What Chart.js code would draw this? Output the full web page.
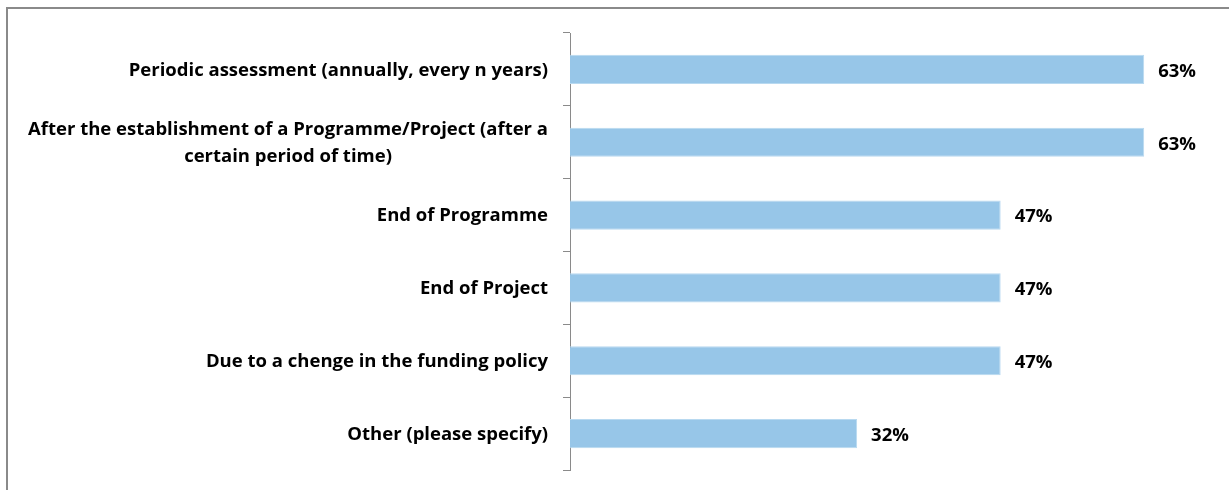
<!DOCTYPE html>
<html>
<head>
<meta charset="utf-8">
<script src="https://cdn.jsdelivr.net/npm/chart.js@4"></script>
<style>
  html, body { margin: 0; padding: 0; overflow: hidden; background: #fff; }
  .frame { position: absolute; left: 6px; top: 7px; width: 1400px; height: 700px; border: 2px solid #8a8a8a; }
  .wrap { position: absolute; left: 0; top: 0; width: 1229px; height: 490px; }
</style>
</head>
<body>
<div class="frame"></div>
<div class="wrap"><canvas id="myChart" width="1229" height="490"></canvas></div>
<script>
const categories = [
  'Periodic assessment (annually, every n years)',
  ['After the establishment of a Programme/Project (after a', 'certain period of time)'],
  'End of Programme',
  'End of Project',
  'Due to a chenge in the funding policy',
  'Other (please specify)'
];
const values = [63.2, 63.2, 47.4, 47.4, 47.4, 31.6];

const labelFont = 'bold 18.5px "Open Sans", sans-serif';

// y labels: wrapped ones are centered line by line like in Excel
const yLabels = {
  id: 'yLabels',
  afterDraw(chart) {
    const ctx = chart.ctx;
    const y = chart.scales.y;
    const right = y.right - 7 - 15;
    ctx.save();
    ctx.font = labelFont;
    ctx.fillStyle = '#000';
    ctx.textBaseline = 'middle';
    categories.forEach((lab, i) => {
      const lines = Array.isArray(lab) ? lab : [lab];
      const cy = y.getPixelForTick(i) + 1;
      const lh = 27;
      const widest = Math.max(...lines.map(l => ctx.measureText(l).width));
      const cx = right - widest / 2;
      ctx.textAlign = 'center';
      lines.forEach((l, k) => {
        ctx.fillText(l, cx, cy + (k - (lines.length - 1) / 2) * lh);
      });
    });
    ctx.restore();
  }
};

const valueLabels = {
  id: 'valueLabels',
  afterDatasetsDraw(chart) {
    const ctx = chart.ctx;
    const meta = chart.getDatasetMeta(0);
    ctx.save();
    ctx.font = labelFont;
    ctx.fillStyle = '#000';
    ctx.textAlign = 'left';
    ctx.textBaseline = 'middle';
    meta.data.forEach((bar, i) => {
      ctx.fillText(Math.round(values[i]) + '%', bar.x + 14, bar.y + 2);
    });
    ctx.restore();
  }
};

const ctx = document.getElementById('myChart');

new Chart(ctx, {
  type: 'bar',
  data: {
    labels: categories,
    datasets: [{
      data: values,
      backgroundColor: '#97c6e8',
      borderColor: '#b8d9f0',
      borderWidth: 1,
      categoryPercentage: 1,
      barPercentage: 0.4
    }]
  },
  options: {
    indexAxis: 'y',
    responsive: false,
    animation: false,
    layout: { padding: { top: 33, bottom: 20, right: 23, left: 0 } },
    plugins: {
      legend: { display: false },
      tooltip: { enabled: false }
    },
    scales: {
      x: {
        display: false,
        min: 0,
        max: 70
      },
      y: {
        afterFit: (scale) => { scale.width = 570; },
        border: { display: true, color: '#8a8a8a', width: 1 },
        grid: {
          display: true,
          offset: true,
          drawOnChartArea: false,
          drawTicks: true,
          tickLength: 7,
          color: '#8a8a8a'
        },
        ticks: {
          color: 'rgba(0,0,0,0)',
          font: { size: 2 },
          padding: 0
        }
      }
    }
  },
  plugins: [yLabels, valueLabels]
});
</script>
</body>
</html>
